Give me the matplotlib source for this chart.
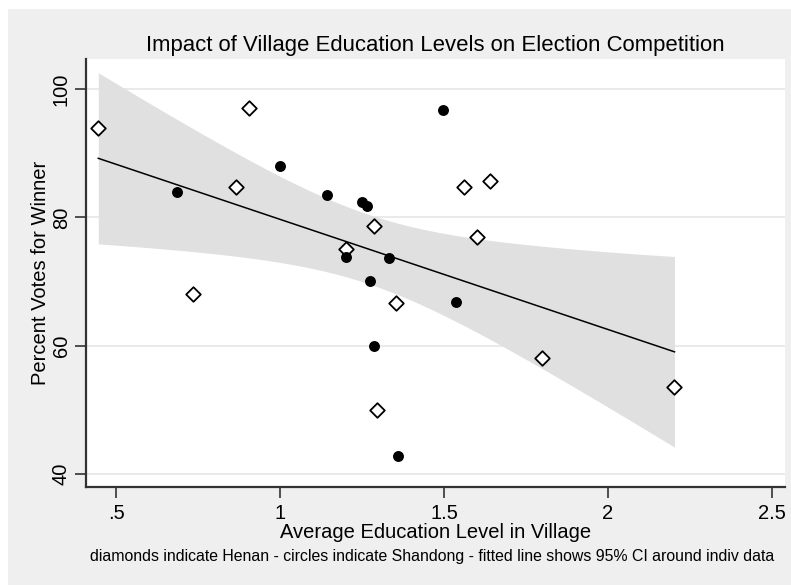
import matplotlib
matplotlib.use("Agg")
import matplotlib.pyplot as plt
from matplotlib.patches import Rectangle
import numpy as np

plt.rcParams['font.family'] = ['Liberation Sans', 'DejaVu Sans']

# Henan villages (diamonds)
henan_edu = [0.446, 0.905, 0.867, 0.734, 1.560, 1.641, 1.287,
             1.601, 1.200, 1.354, 1.296, 1.800, 2.203]
henan_votes = [94.0, 97.1, 84.7, 68.1, 84.7, 85.7, 78.6,
               76.9, 75.0, 66.7, 50.0, 58.1, 53.6]

# Shandong villages (circles)
shandong_edu = [1.000, 0.685, 1.498, 1.142, 1.249, 1.266,
                1.200, 1.332, 1.276, 1.537, 1.286, 1.360]
shandong_votes = [88.0, 84.0, 96.8, 83.5, 82.4, 81.8,
                  73.8, 73.6, 70.1, 66.8, 60.0, 42.8]

x_ticks = [0.5, 1, 1.5, 2, 2.5]
x_ticklabels = ['.5', '1', '1.5', '2', '2.5']
y_ticks = [40, 60, 80, 100]

title = 'Impact of Village Education Levels on Election Competition'
x_title = 'Average Education Level in Village'
y_title = 'Percent Votes for Winner'
note = ('diamonds indicate Henan - circles indicate Shandong - '
        'fitted line shows 95% CI around indiv data')

# pooled linear fit with 95% CI of the prediction mean
x = np.array(henan_edu + shandong_edu)
y = np.array(henan_votes + shandong_votes)
n = len(x)
b, a = np.polyfit(x, y, 1)
resid = y - (a + b * x)
s = np.sqrt(np.sum(resid ** 2) / (n - 2))
t_crit = 2.0687  # t(0.975, 23)
xs = np.linspace(x.min(), x.max(), 100)
fit = a + b * xs
se = s * np.sqrt(1.0 / n + (xs - x.mean()) ** 2 / np.sum((x - x.mean()) ** 2))
lo, hi = fit - t_crit * se, fit + t_crit * se

W, H = 791, 585
fig = plt.figure(figsize=(W / 100, H / 100), dpi=100, facecolor='white')
fig.patches.append(Rectangle((8 / W, 0), 1, 1 - 9 / H, transform=fig.transFigure,
                             facecolor='#efefef', edgecolor='none', zorder=-10))

ax = fig.add_axes([86 / W, 1 - 487 / H, (785 - 86) / W, (487 - 59) / H])
ax.set_facecolor('white')

ax.fill_between(xs, lo, hi, color='#e0e0e0', linewidth=0, zorder=1)
ax.plot(xs, fit, color='black', linewidth=1.1, zorder=2)
ax.scatter(henan_edu, henan_votes, marker='D', s=55, facecolor='white',
           edgecolor='black', linewidth=1.3, zorder=3)
ax.scatter(shandong_edu, shandong_votes, marker='o', s=62, color='black',
           linewidth=0, zorder=3)

ax.set_xlim(0.4085, 2.54)
ax.set_ylim(37.97, 104.68)
ax.set_xticks(x_ticks)
ax.set_xticklabels(x_ticklabels)
ax.set_yticks(y_ticks)
ax.set_yticklabels([str(v) for v in y_ticks], rotation=90, va='center')
ax.tick_params(axis='both', direction='out', length=8, width=1.2,
               color='#333333', labelsize=14.5)
ax.tick_params(axis='x', pad=4)
ax.tick_params(axis='y', pad=3)
ax.grid(axis='y', color='#e6e6e6', linewidth=1.2, zorder=0)
ax.set_axisbelow(True)
for side in ['top', 'right']:
    ax.spines[side].set_visible(False)
for side in ['left', 'bottom']:
    ax.spines[side].set_color('#333333')
    ax.spines[side].set_linewidth(1.6)

fig.text(435.5 / W, 1 - 45 / H, title, ha='center', va='center', fontsize=15.9)
fig.text(435.5 / W, 1 - 532 / H, x_title, ha='center', va='center', fontsize=14.5)
fig.text(40.5 / W, 1 - 273 / H, y_title, ha='center', va='center',
         rotation=90, fontsize=14.5)
fig.text(432 / W, 1 - 557 / H, note, ha='center', va='center', fontsize=11.4)

fig.savefig('out.png', dpi=100, facecolor=fig.get_facecolor())
